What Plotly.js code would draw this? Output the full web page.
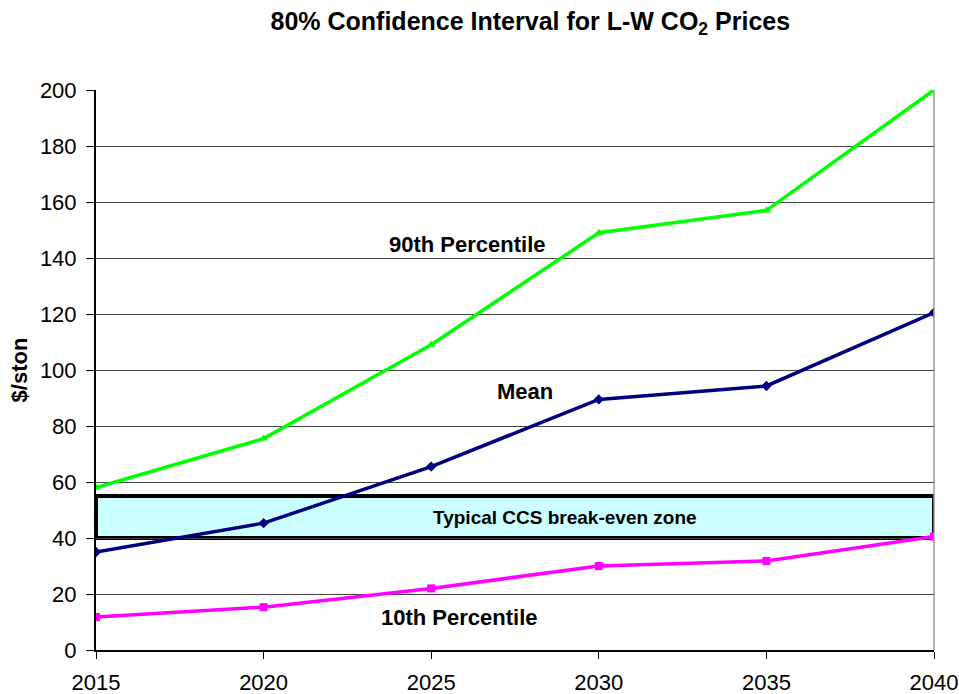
<!DOCTYPE html>
<html><head><meta charset="utf-8">
<script src="https://cdn.plot.ly/plotly-3.0.1.min.js"></script>
<style>body{margin:0;background:#fff}#c{width:959px;height:694px}</style>
</head><body><div id="c"></div>
<script>
const years = [2015, 2020, 2025, 2030, 2035, 2040];
const p90 = [58, 75.5, 109, 149, 157, 200];
const mean = [35, 45.3, 65.5, 89.5, 94.3, 120.5];
const p10 = [11.8, 15.3, 22, 30, 31.8, 40.5];
const zoneLow = 40, zoneHigh = 55;
const yTicks = [0,20,40,60,80,100,120,140,160,180,200];

const font = "Liberation Sans, Arial, sans-serif";
const traces = [
  {x: years, y: p90, mode: 'lines+markers', line: {color: '#00ff00', width: 3.5}, marker: {symbol: 'triangle-up', size: 8, color: '#00ff00'}},
  {x: years, y: mean, mode: 'lines+markers', line: {color: '#000080', width: 3.5}, marker: {symbol: 'diamond', size: 8, color: '#000080'}},
  {x: years, y: p10, mode: 'lines+markers', line: {color: '#ff00ff', width: 3.5}, marker: {symbol: 'square', size: 8, color: '#ff00ff'}}
];
const layout = {
  width: 959, height: 694,
  margin: {l: 96, r: 25, t: 90, b: 44},
  showlegend: false,
  paper_bgcolor: '#fff', plot_bgcolor: '#fff',
  font: {family: font, size: 22, color: '#000'},
  title: {text: '<b>80% Confidence Interval for L-W CO<sub>2</sub> Prices</b>', x: 0.553, xanchor: 'center',
    yref: 'container', y: 0.982, yanchor: 'top', font: {size: 25}},
  xaxis: {range: [2015, 2040], tickvals: years, ticktext: years.map(String), ticks: 'outside', ticklen: 7, tickcolor: '#000',
    ticklabelstandoff: 5,
    showline: true, linecolor: '#000', linewidth: 2, showgrid: false, zeroline: false},
  yaxis: {range: [0, 200], tickvals: yTicks, ticks: 'outside', ticklen: 8, tickcolor: '#000', ticklabelstandoff: 5,
    showline: true, linecolor: '#000', linewidth: 2, showgrid: true, gridcolor: '#444', gridwidth: 1, zeroline: false,
    title: {text: '<b>$/ston</b>', standoff: 6, font: {size: 22}}},
  shapes: [
    {type: 'rect', xref: 'x', yref: 'y', x0: years[0], x1: years[years.length-1], y0: zoneLow, y1: zoneHigh,
      fillcolor: '#ccffff', line: {color: '#000', width: 4}, layer: 'below'},
    {type: 'line', xref: 'paper', yref: 'paper', x0: 1, x1: 1, y0: 0, y1: 1, line: {color: '#999', width: 1.5}}
  ],
  annotations: [
    {x: 2026.07, y: 145, text: '<b>90th Percentile</b>', showarrow: false, font: {size: 22}},
    {x: 2027.8, y: 92.5, text: '<b>Mean</b>', showarrow: false, font: {size: 22}},
    {x: 2025.83, y: 11.5, text: '<b>10th Percentile</b>', showarrow: false, font: {size: 22}},
    {x: 2029, y: 47.5, text: '<b>Typical CCS break-even zone</b>', showarrow: false, font: {size: 19}}
  ]
};
Plotly.newPlot('c', traces, layout, {displayModeBar: false, staticPlot: true});
</script></body></html>
